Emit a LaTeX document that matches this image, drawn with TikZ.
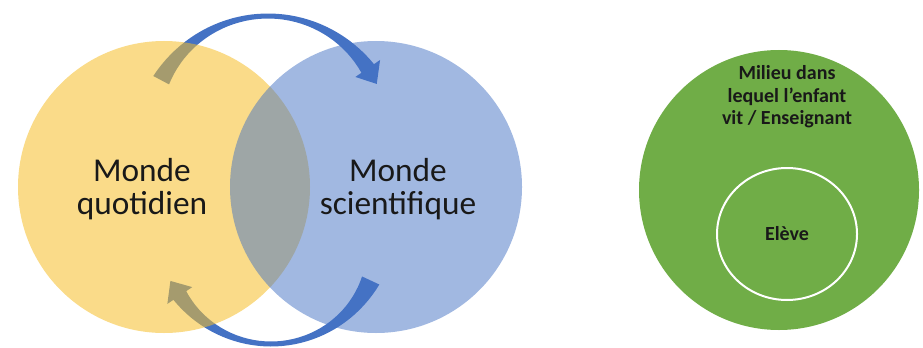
\documentclass[tikz,border=0pt]{standalone}
\usepackage{fontspec}
\setmainfont{Carlito}
\usetikzlibrary{shapes.geometric}
\definecolor{arrowblue}{RGB}{68,114,196}
\definecolor{quotiyellow}{RGB}{245,190,40}
\definecolor{scienblue}{RGB}{68,114,196}
\definecolor{milieugreen}{RGB}{112,173,71}
\definecolor{textblack}{RGB}{25,25,25}
\begin{document}
\begin{tikzpicture}[x=0.75pt, y=0.75pt,
    declare function={wt(\t)=5+12*((\t-90)/60)^2; wb(\t)=5+12*((\t+90)/60)^2;},
    world/.style={circle, inner sep=0pt, minimum size=219pt},
    worldtext/.style={align=center, text=textblack, font=\fontsize{25}{24.5}\selectfont},
    milieutext/.style={align=center, text=textblack, font=\fontsize{15}{17}\selectfont\bfseries}]
  \useasboundingbox (0,0) rectangle (923,347);
  \fill[arrowblue]
    plot[domain=152:34.5, samples=40] ({268+(121+wt(\x)/2)*cos(\x)}, {210+(121+wt(\x)/2)*sin(\x)})
    -- ({268+136*cos(34.5)}, {210+136*sin(34.5)})
    -- ({268+121*cos(26)}, {210+121*sin(26)})
    -- ({268+106*cos(34.5)}, {210+106*sin(34.5)})
    -- plot[domain=34.5:152, samples=40] ({268+(121-wt(\x)/2)*cos(\x)}, {210+(121-wt(\x)/2)*sin(\x)})
    -- cycle;
  \fill[arrowblue]
    plot[domain=-25:-146, samples=40] ({271+(110+wb(\x)/2)*cos(\x)}, {113+(110+wb(\x)/2)*sin(\x)})
    -- ({271+125*cos(-146)}, {113+125*sin(-146)})
    -- ({271+111*cos(-155)}, {113+111*sin(-155)})
    -- ({271+95*cos(-146)}, {113+95*sin(-146)})
    -- plot[domain=-146:-25, samples=40] ({271+(110-wb(\x)/2)*cos(\x)}, {113+(110-wb(\x)/2)*sin(\x)})
    -- cycle;
  \node[world, fill=quotiyellow, fill opacity=0.55] (quotidien) at (164,160) {};
  \node[world, fill=scienblue, fill opacity=0.5] (scientifique) at (376,160) {};
  \node[worldtext] (quotidientext) at (142,158) {Monde\\quotidien};
  \node[worldtext] (scientifiquetext) at (398,158) {Monde\\scientifique};
  \node[circle, inner sep=0pt, minimum size=210pt, fill=milieugreen] (milieu) at (779,157) {};
  \node[milieutext] (milieutext) at (787,250) {Milieu dans\\lequel l'enfant\\vit / Enseignant};
  \node[ellipse, draw=white, line width=1.5pt, inner sep=0pt, minimum width=105pt,
    minimum height=99pt, milieutext] (eleve) at (787,113) {Elève};
\end{tikzpicture}
\end{document}
